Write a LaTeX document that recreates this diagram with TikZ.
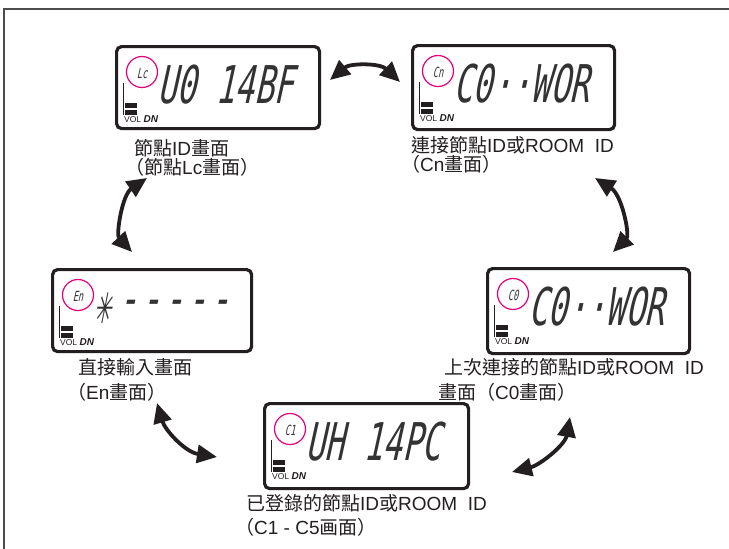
\documentclass[tikz,border=0pt]{standalone}
\usepackage{fontspec}
\setmainfont{Liberation Sans}
\newfontfamily\cjk{Noto Sans CJK TC}
\newfontfamily\lcdfont[FakeStretch=0.62,FakeSlant=0.22]{DejaVu Sans Mono}
\newfontfamily\lcdsym[FakeStretch=0.5,FakeSlant=0.2]{DejaVu Sans}
\usetikzlibrary{arrows.meta}
\newcommand{\zh}[1]{{\cjk #1}}
\newcommand{\dk}{\kern3.6pt}
\definecolor{ink}{HTML}{231F20}
\definecolor{ringpink}{HTML}{E5007E}
\newcommand{\lcdscreen}[8]{%
\begin{scope}[shift={(#2,#3)}]
 \node[lcdbox, minimum width=#4pt, minimum height=#5pt, anchor=north west] (#1) at (0,0) {};
 \node[tagring] (#1-ring) at (27,27) {};
 \node[tagtxt] (#1-tag) at (27,28) {#6};
 \draw[volline] (8,38) -- (8,70);
 \fill[ink] (10,58) rectangle (22,63);
 \fill[ink] (10,64.5) rectangle (22,69.5);
 \node[voltxt, anchor=base west] (#1-vol) at (9,77) {VOL {\fontsize{10}{10}\selectfont\bfseries\itshape DN}};
 \node[bigtxt, anchor=west] (#1-big) at (#8,40) {#7};
\end{scope}}
\begin{document}
\begin{tikzpicture}[x=1pt,y=-1pt,
 lcdbox/.style={draw=ink, line width=3.2pt, rounded corners=5pt, inner sep=0pt},
 tagring/.style={circle, draw=ringpink, line width=1.2pt, minimum size=31pt, inner sep=0pt},
 tagtxt/.style={inner sep=0pt, text=black!80, font=\lcdfont\fontsize{14}{14}\selectfont},
 volline/.style={draw=ink, line width=0.8pt},
 voltxt/.style={inner sep=0pt, text=ink, font=\fontsize{8.5}{8.5}\selectfont},
 bigtxt/.style={inner sep=0pt, text=black!80, font=\lcdfont\fontsize{52}{52}\selectfont},
 startxt/.style={inner sep=0pt, text=black!80, font=\lcdsym\fontsize{42}{42}\selectfont},
 lbl/.style={inner sep=0pt, anchor=base west, text=ink, font=\fontsize{19}{19}\selectfont},
 arr/.style={draw=ink, line width=3.8pt, {Triangle[length=20pt,width=18pt]}-{Triangle[length=20pt,width=18pt]}},
 frame/.style={draw=black!70, line width=1.4pt}]
\useasboundingbox (0,0) rectangle (729,549);
\fill[white] (0,0) rectangle (729,549);
\draw[frame] (4,549) -- (4,9) -- (729,9);

\lcdscreen{lc}{115}{45}{203}{82}{Lc}{U0 14BF}{42}
\lcdscreen{cn}{411}{44}{202}{84}{Cn}{C0··WOR}{42}
\lcdscreen{en}{51}{268}{199}{82}{En}{-\dk-\dk-\dk-\dk-}{67}
\node[startxt, anchor=west] (en-star) at (93,308) {✳};
\lcdscreen{cz}{486}{267}{202}{85}{C0}{C0··WOR}{42}
\lcdscreen{co}{263}{402}{204}{85}{C1}{UH 14PC}{42}

\node[lbl] (l1a) at (134,155) {\zh{節點}ID\zh{畫面}};
\node[lbl] (l1b) at (125,174) {\zh{（節點}Lc\zh{畫面）}};
\node[lbl] (l2a) at (411,152) {\zh{連接節點}ID\zh{或}ROOM\ \ ID};
\node[lbl] (l2b) at (401,171) {\zh{（}Cn\zh{畫面）}};
\node[lbl] (l3a) at (78,374) {\zh{直接輸入畫面}};
\node[lbl] (l3b) at (67,399) {\zh{（}En\zh{畫面）}};
\node[lbl] (l4a) at (444,374) {\zh{上次連接的節點}ID\zh{或}ROOM\ \ ID};
\node[lbl] (l4b) at (438,399) {\zh{畫面（}C0\zh{畫面）}};
\node[lbl] (l5a) at (246,510) {\zh{已登錄的節點}ID\zh{或}ROOM\ \ ID};
\node[lbl] (l5b) at (235,534) {\zh{（}C1 - C5\zh{画面）}};

\coordinate (a1s) at (330,80);
\coordinate (a1e) at (400,82);
\coordinate (a2s) at (147,178);
\coordinate (a2e) at (132,252);
\coordinate (a3s) at (595,178);
\coordinate (a3e) at (613,252);
\coordinate (a4s) at (157,403);
\coordinate (a4e) at (217,457);
\coordinate (a5s) at (570,417);
\coordinate (a5e) at (512,472);
\draw[arr] (a1s) .. controls (350,63) and (380,63) .. (a1e);
\draw[arr] (a2s) .. controls (122,195) and (116,235) .. (a2e);
\draw[arr] (a3s) .. controls (622,195) and (630,235) .. (a3e);
\draw[arr] (a4s) .. controls (165,430) and (185,452) .. (a4e);
\draw[arr] (a5s) .. controls (565,445) and (540,465) .. (a5e);
\end{tikzpicture}
\end{document}
